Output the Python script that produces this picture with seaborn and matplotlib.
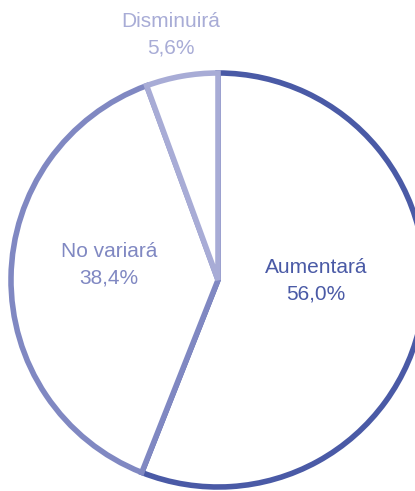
import seaborn as sns
import matplotlib.pyplot as plt

labels = ['Aumentará', 'No variará', 'Disminuirá']
values = [56.0, 38.4, 5.6]
colors = ['#4a5aa6', '#8088c2', '#a8acd6']

sns.set_style('white')
plt.rcParams['font.family'] = ['Liberation Sans', 'DejaVu Sans']

fig = plt.figure(figsize=(4.15, 4.91), dpi=100)
ax = fig.add_axes([0, 0, 1, 1])

# pie in pixel-like coordinates (y up)
cx, cy, r = 218, 491 - 280, 207
wedges, _ = ax.pie(values, startangle=90, counterclock=False, center=(cx, cy), radius=r,
                   colors=['white'] * 3,
                   wedgeprops=dict(linewidth=4, joinstyle='miter'))
for w, c in zip(wedges, colors):
    w.set_edgecolor(c)

ax.set_xlim(0, 415)
ax.set_ylim(0, 491)
ax.set_aspect('equal')
ax.axis('off')

# label positions (pixels from top-left)
pos = [(316, 281), (109, 265), (171, 35)]
for lab, v, c, (x, y) in zip(labels, values, colors, pos):
    txt = lab + '\n' + f'{v:.1f}%'.replace('.', ',')
    ax.text(x, 491 - y, txt, ha='center', va='center', color=c, fontsize=15,
            linespacing=1.5)

fig.savefig('out.png', dpi=100)
